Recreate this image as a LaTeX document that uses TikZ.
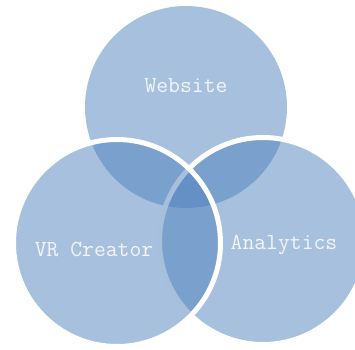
\documentclass[tikz,border=0pt]{standalone}
\usepackage{fontspec}
\definecolor{vblue}{RGB}{79,129,189}
\definecolor{vtext}{RGB}{242,245,250}
\begin{document}
\begin{tikzpicture}[x=1pt,y=-1pt,
  venn/.style={circle,fill=vblue,fill opacity=0.5,minimum size=#1,inner sep=0pt},
  ring/.style={draw=white,line width=5pt},
  lbl/.style={text=vtext,font=\ttfamily\fontsize{23}{25}\selectfont,inner sep=0pt}]
\useasboundingbox (0,0) rectangle (355,349);
\node[venn=202pt] (web) at (186,107) {};
\node[venn=207pt,ring] (ana) at (263,241) {};
\node[venn=207pt,ring] (vr) at (117,243) {};
\node[lbl] (tweb) at (186,86) {Website};
\node[lbl] (tvr) at (94,249) {VR Creator};
\node[lbl] (tana) at (284,245) {Analytics};
\end{tikzpicture}
\end{document}
